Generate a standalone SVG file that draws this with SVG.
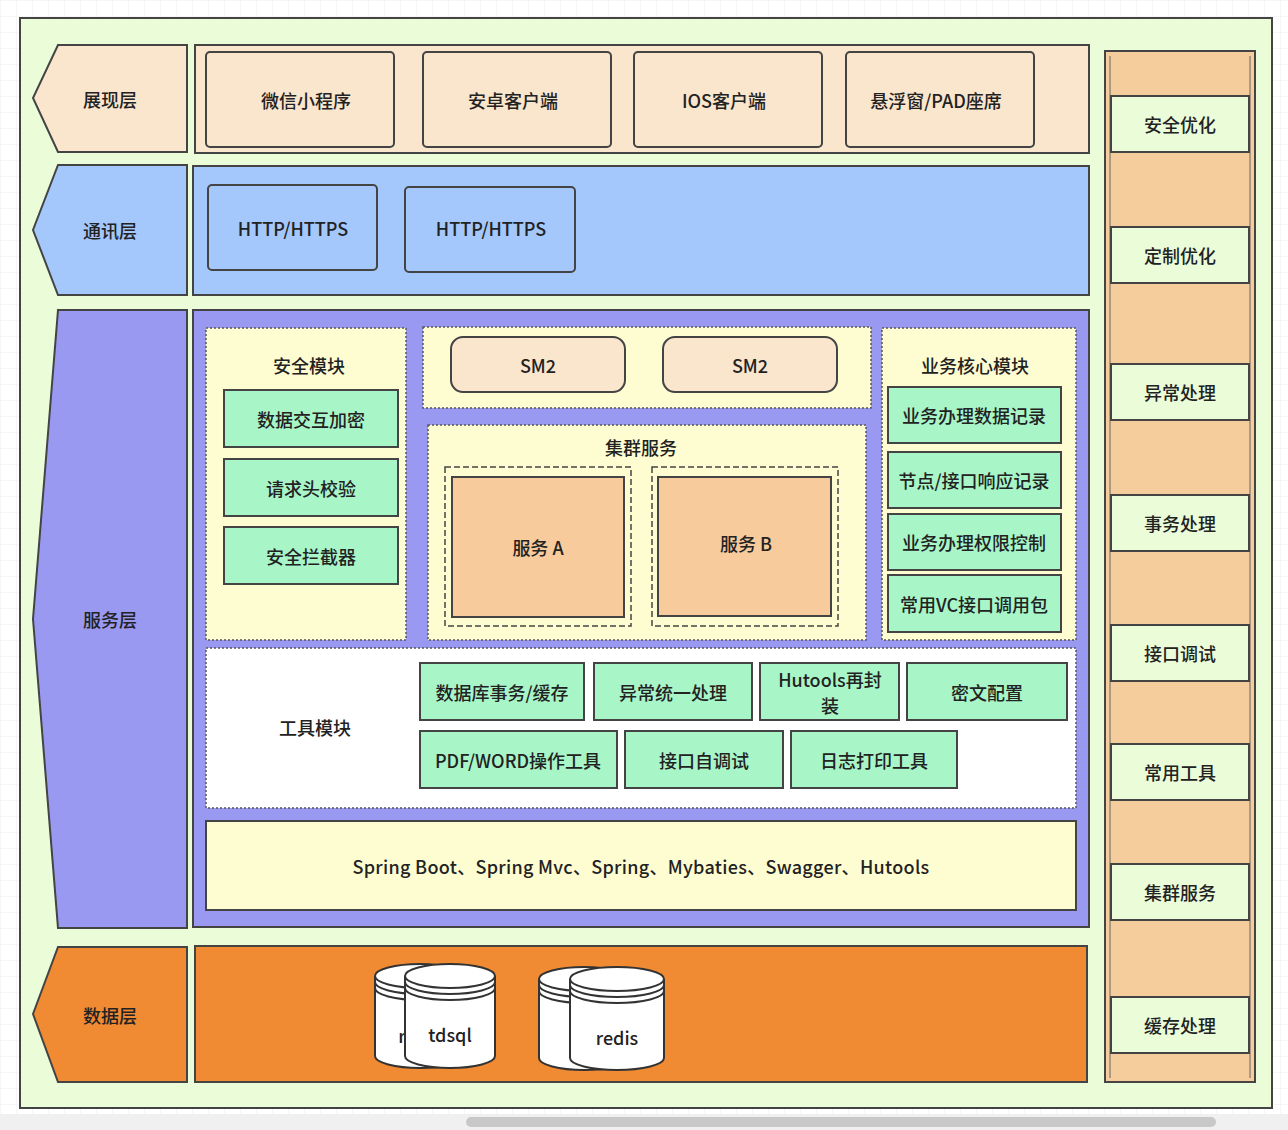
<svg xmlns="http://www.w3.org/2000/svg" width="1288" height="1130" viewBox="0 0 1288 1130">
<defs>
<pattern id="grid" width="16" height="16" patternUnits="userSpaceOnUse"><path d="M16 0H0V16" fill="none" stroke="#eee" stroke-width="1"/></pattern>
</defs>
<style>
text{font-family:"Noto Sans CJK SC","Liberation Sans",sans-serif;font-size:18px;font-weight:500;fill:#222;text-anchor:middle;dominant-baseline:central}
.s{stroke:#444;stroke-width:2}
.d{stroke:#555;stroke-width:1.5;stroke-dasharray:2 2}
.dash{fill:none;stroke:#444;stroke-width:1.5;stroke-dasharray:6 3}
.pe{fill:#fae5cd}.bl{fill:#a4c8fc}.pu{fill:#9a99f2}.ye{fill:#fefdd2}.mi{fill:#a8f6c8}.gr{fill:#ebfcd9}.or{fill:#f08a33}.ta{fill:#f7cb9c}
.cy{fill:#fff;stroke:#333;stroke-width:2}
</style>
<rect width="1288" height="1130" fill="#fff"/>
<rect width="1288" height="1130" fill="url(#grid)"/>
<rect x="20" y="18" width="1252" height="1090" class="gr s"/>
<g id="labels">
<g id="l1"><path d="M58 45H187V152H58L33 98Z" class="pe s"/><text x="110" y="99">展现层</text></g>
<g id="l2"><path d="M58 165H187V295H58L33 230Z" class="bl s"/><text x="110" y="230">通讯层</text></g>
<g id="l3"><path d="M58 310H187V928H58L33 619Z" class="pu s"/><text x="110" y="619">服务层</text></g>
<g id="l4"><path d="M58 947H187V1082H58L33 1014Z" class="or s"/><text x="110" y="1015">数据层</text></g>
</g>
<g id="presentation">
<rect x="195" y="45" width="894" height="108" class="pe s"/>
<rect x="206" y="52" width="188" height="95" rx="4" class="pe s"/><text x="306" y="100">微信小程序</text>
<rect x="423" y="52" width="188" height="95" rx="4" class="pe s"/><text x="513" y="100">安卓客户端</text>
<rect x="634" y="52" width="188" height="95" rx="4" class="pe s"/><text x="724" y="100">IOS客户端</text>
<rect x="846" y="52" width="188" height="95" rx="4" class="pe s"/><text x="936" y="100">悬浮窗/PAD座席</text>
</g>
<g id="comm">
<rect x="193" y="166" width="896" height="129" class="bl s"/>
<rect x="208" y="185" width="169" height="85" rx="4" class="bl s"/><text x="293" y="228">HTTP/HTTPS</text>
<rect x="405" y="187" width="170" height="85" rx="4" class="bl s"/><text x="491" y="228">HTTP/HTTPS</text>
</g>
<g id="service">
<rect x="193" y="310" width="896" height="617" class="pu s"/>
<g id="security">
<rect x="206" y="328" width="200" height="312" class="ye d"/>
<text x="309" y="365">安全模块</text>
<rect x="224" y="390" width="174" height="57" class="mi s"/><text x="311" y="419">数据交互加密</text>
<rect x="224" y="459" width="174" height="57" class="mi s"/><text x="311" y="488">请求头校验</text>
<rect x="224" y="527" width="174" height="57" class="mi s"/><text x="311" y="556">安全拦截器</text>
</g>
<g id="sm2">
<rect x="423" y="327" width="448" height="81" class="ye d"/>
<rect x="451" y="337" width="174" height="55" rx="12" class="pe s"/><text x="538" y="365">SM2</text>
<rect x="663" y="337" width="174" height="55" rx="12" class="pe s"/><text x="750" y="365">SM2</text>
</g>
<g id="cluster">
<rect x="428" y="425" width="438" height="215" class="ye d"/>
<text x="641" y="447">集群服务</text>
<rect x="445" y="467" width="186" height="159" class="dash"/>
<rect x="452" y="477" width="172" height="140" class="ta s"/><text x="538" y="547">服务 A</text>
<rect x="652" y="467" width="186" height="159" class="dash"/>
<rect x="658" y="477" width="173" height="139" class="ta s"/><text x="746" y="543">服务 B</text>
</g>
<g id="core">
<rect x="882" y="328" width="194" height="312" class="ye d"/>
<text x="975" y="365">业务核心模块</text>
<rect x="888" y="387" width="173" height="56" class="mi s"/><text x="974" y="415">业务办理数据记录</text>
<rect x="888" y="452" width="173" height="56" class="mi s"/><text x="974" y="480">节点/接口响应记录</text>
<rect x="888" y="514" width="173" height="56" class="mi s"/><text x="974" y="542">业务办理权限控制</text>
<rect x="888" y="575" width="173" height="57" class="mi s"/><text x="974" y="604">常用VC接口调用包</text>
</g>
<g id="tools">
<rect x="206" y="648" width="870" height="160" fill="#fff" class="d"/>
<text x="315" y="727">工具模块</text>
<rect x="420" y="663" width="164" height="57" class="mi s"/><text x="502" y="692">数据库事务/缓存</text>
<rect x="594" y="663" width="158" height="57" class="mi s"/><text x="673" y="692">异常统一处理</text>
<rect x="760" y="663" width="139" height="57" class="mi s"/><text x="830" y="679">Hutools再封</text><text x="830" y="705">装</text>
<rect x="907" y="663" width="160" height="57" class="mi s"/><text x="987" y="692">密文配置</text>
<rect x="420" y="731" width="197" height="57" class="mi s"/><text x="518" y="760">PDF/WORD操作工具</text>
<rect x="625" y="731" width="158" height="57" class="mi s"/><text x="704" y="760">接口自调试</text>
<rect x="791" y="731" width="166" height="57" class="mi s"/><text x="874" y="760">日志打印工具</text>
</g>
<g id="spring">
<rect x="206" y="821" width="870" height="89" class="ye s"/>
<text x="641" y="866" style="letter-spacing:0.3px">Spring Boot、Spring Mvc、Spring、Mybaties、Swagger、Hutools</text>
</g>
</g>
<g id="data">
<rect x="195" y="946" width="892" height="136" class="or s"/>
<g id="db1">
<path d="M375 976V1056A45 12 0 0 0 465 1056V976A45 12 0 0 0 375 976Z" class="cy"/>
<path d="M375 982A45 12 0 0 0 465 982M375 988A45 12 0 0 0 465 988M375 976A45 12 0 0 0 465 976" fill="none" stroke="#333" stroke-width="2"/>
<text x="402" y="1035">r</text>
<path d="M405 976V1056A45 12 0 0 0 495 1056V976A45 12 0 0 0 405 976Z" class="cy"/>
<path d="M405 982A45 12 0 0 0 495 982M405 988A45 12 0 0 0 495 988M405 976A45 12 0 0 0 495 976" fill="none" stroke="#333" stroke-width="2"/>
<text x="450" y="1034">tdsql</text>
</g>
<g id="db2">
<path d="M539 979V1058A45 12 0 0 0 629 1058V979A45 12 0 0 0 539 979Z" class="cy"/>
<path d="M539 985A45 12 0 0 0 629 985M539 991A45 12 0 0 0 629 991M539 979A45 12 0 0 0 629 979" fill="none" stroke="#333" stroke-width="2"/>
<path d="M570 979V1058A47 12 0 0 0 664 1058V979A47 12 0 0 0 570 979Z" class="cy"/>
<path d="M570 985A47 12 0 0 0 664 985M570 991A47 12 0 0 0 664 991M570 979A47 12 0 0 0 664 979" fill="none" stroke="#333" stroke-width="2"/>
<text x="617" y="1037">redis</text>
</g>
</g>
<g id="side">
<rect x="1105" y="51" width="150" height="1031" fill="#f5cc9c" class="s"/>
<line x1="1110" y1="56" x2="1110" y2="1078" stroke="#666" stroke-width="1"/>
<line x1="1250" y1="56" x2="1250" y2="1078" stroke="#666" stroke-width="1"/>
<g id="s1"><rect x="1111" y="96" width="138" height="56" class="gr s"/><text x="1180" y="124">安全优化</text></g>
<g id="s2"><rect x="1111" y="227" width="138" height="56" class="gr s"/><text x="1180" y="255">定制优化</text></g>
<g id="s3"><rect x="1111" y="364" width="138" height="56" class="gr s"/><text x="1180" y="392">异常处理</text></g>
<g id="s4"><rect x="1111" y="495" width="138" height="56" class="gr s"/><text x="1180" y="523">事务处理</text></g>
<g id="s5"><rect x="1111" y="625" width="138" height="56" class="gr s"/><text x="1180" y="653">接口调试</text></g>
<g id="s6"><rect x="1111" y="744" width="138" height="56" class="gr s"/><text x="1180" y="772">常用工具</text></g>
<g id="s7"><rect x="1111" y="864" width="138" height="56" class="gr s"/><text x="1180" y="892">集群服务</text></g>
<g id="s8"><rect x="1111" y="997" width="138" height="56" class="gr s"/><text x="1180" y="1025">缓存处理</text></g>
</g>
<g id="connectors"/>
<rect x="0" y="1114" width="1288" height="16" fill="#f0f0f0"/>
<rect x="466" y="1117" width="750" height="10" rx="5" fill="#c8c8c8"/>
</svg>
